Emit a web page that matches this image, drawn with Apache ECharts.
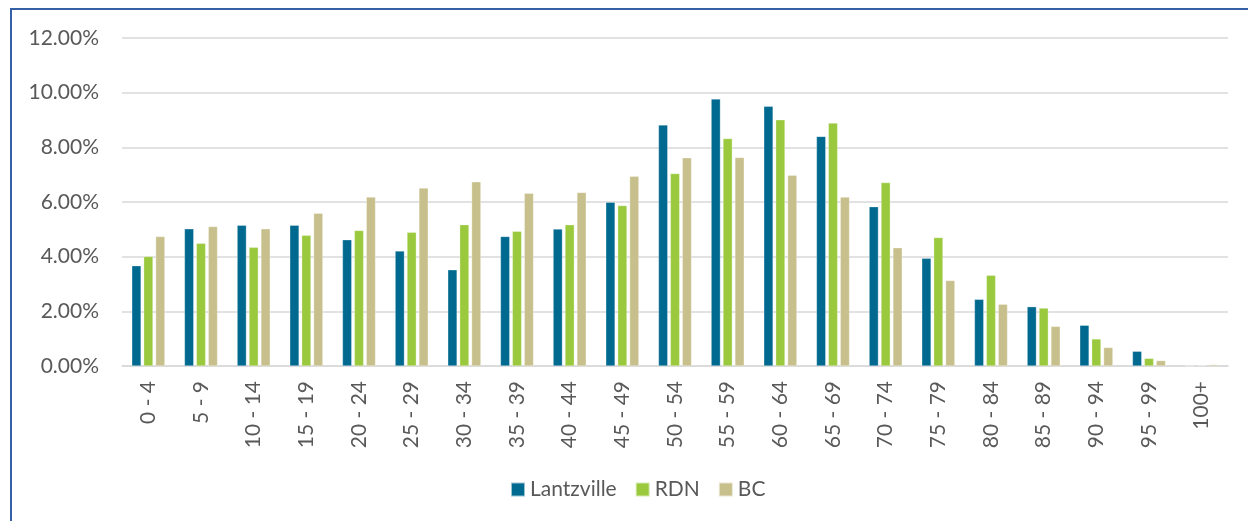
<!DOCTYPE html>
<html>
<head>
<meta charset="utf-8">
<title>Age distribution</title>
<script src="https://cdn.jsdelivr.net/npm/echarts@6/dist/echarts.min.js"></script>
<style>
  html, body { margin: 0; padding: 0; background: #fff; }
  #wrap { position: relative; width: 1248px; height: 521px; overflow: hidden; }
  #frame { position: absolute; left: 10px; top: 8px; width: 1300px; height: 600px;
           border-left: 2px solid #3560a6; border-top: 2px solid #3560a6; }
  #ageChart { position: absolute; left: 0; top: 0; width: 1248px; height: 521px; }
</style>
</head>
<body>
<div id="wrap">
  <div id="frame"></div>
  <div id="ageChart"></div>
</div>
<script>
// age groups
const categories = ['0 - 4', '5 - 9', '10 - 14', '15 - 19', '20 - 24', '25 - 29', '30 - 34',
  '35 - 39', '40 - 44', '45 - 49', '50 - 54', '55 - 59', '60 - 64', '65 - 69', '70 - 74',
  '75 - 79', '80 - 84', '85 - 89', '90 - 94', '95 - 99', '100+']

// share of population, %
const lantzville = [3.67, 5.02, 5.15, 5.15, 4.62, 4.21, 3.52, 4.74, 5.01, 5.99, 8.82,
  9.77, 9.50, 8.40, 5.83, 3.94, 2.44, 2.17, 1.49, 0.54, 0.00]
const rdn = [4.01, 4.49, 4.34, 4.78, 4.96, 4.89, 5.17, 4.93, 5.17, 5.87, 7.04,
  8.32, 9.01, 8.89, 6.71, 4.70, 3.32, 2.12, 0.99, 0.28, 0.02]
const bc = [4.74, 5.10, 5.02, 5.59, 6.18, 6.51, 6.74, 6.32, 6.35, 6.94, 7.62,
  7.63, 6.98, 6.18, 4.33, 3.13, 2.26, 1.45, 0.68, 0.20, 0.05]

const fontName = 'Lato, "Noto Sans", sans-serif'
const textGrey = '#595959'

const chart = echarts.init(document.getElementById('ageChart'))

function barSeries(name, data) {
  return {
    name: name,
    type: 'bar',
    data: data,
    barWidth: 9.3,
    barGap: '28%',
    itemStyle: {
      borderColor: 'rgba(255,255,255,0.6)',
      borderWidth: 0.5
    }
  }
}

chart.setOption({
  color: ['#00698f', '#9bc93e', '#c8c08c'],
  textStyle: { fontFamily: fontName },
  animation: false,
  grid: {
    top: 38,
    left: 122,
    right: 20,
    bottom: 155
  },
  xAxis: {
    type: 'category',
    data: categories,
    axisLine: { show: true, lineStyle: { color: '#d9d9d9', width: 1.5 } },
    axisTick: { show: false },
    axisLabel: {
      rotate: 90,
      margin: 15,
      color: textGrey,
      fontSize: 21,
      fontFamily: fontName
    }
  },
  yAxis: {
    type: 'value',
    min: 0,
    max: 12,
    interval: 2,
    axisLine: { show: false },
    axisTick: { show: false },
    splitLine: { lineStyle: { color: '#d9d9d9', width: 1.5 } },
    axisLabel: {
      margin: 23,
      color: textGrey,
      fontSize: 21,
      fontFamily: fontName,
      formatter: v => v.toFixed(2) + '%'
    }
  },
  legend: {
    left: 505,
    top: 474,
    icon: 'rect',
    itemWidth: 14,
    itemHeight: 14,
    itemGap: 18,
    textStyle: { color: textGrey, fontSize: 21, fontFamily: fontName }
  },
  series: [
    barSeries('Lantzville', lantzville),
    barSeries('RDN', rdn),
    barSeries('BC', bc)
  ]
})
</script>
</body>
</html>
